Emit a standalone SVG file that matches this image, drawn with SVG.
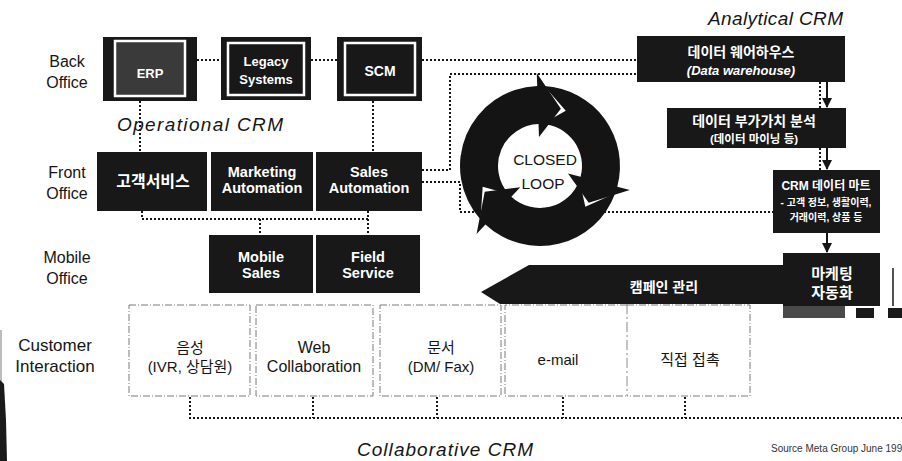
<svg xmlns="http://www.w3.org/2000/svg" width="902" height="461" viewBox="0 0 902 461">
  <defs>
    <style>
      .lbl { font-family: "Liberation Sans", "Noto Sans CJK KR", sans-serif; font-size: 16px; fill: #151515; text-anchor: middle; }
      .ttl { font-family: "Liberation Sans", sans-serif; font-style: italic; font-size: 19px; fill: #151515; }
      .box { fill: #181818; }
      .inner { fill: none; stroke: #ffffff; stroke-width: 2.5; }
      .wt { font-family: "Liberation Sans", "Noto Sans CJK KR", sans-serif; font-weight: bold; fill: #ffffff; text-anchor: middle; }
      .ci { font-family: "Liberation Sans", "Noto Sans CJK KR", sans-serif; font-size: 15px; fill: #151515; text-anchor: middle; }
      .frame { fill: none; stroke: #7a7a7a; stroke-width: 1; stroke-dasharray: 7 2 1 2; }
      .dot { fill: none; stroke: #151515; stroke-width: 2; stroke-dasharray: 2 2; }
      .solid { fill: none; stroke: #151515; stroke-width: 2; }
      .ring { fill: #141414; }
    </style>
    <marker id="head" viewBox="0 0 10 10" refX="9" refY="5" markerWidth="5" markerHeight="5" orient="auto">
      <path d="M0,0 L10,5 L0,10 Z" fill="#151515"/>
    </marker>
  </defs>

  <rect width="902" height="461" fill="#ffffff"/>

  <!-- scanner edge on the left -->
  <rect x="0" y="330" width="2" height="131" fill="#bdbdbd"/>
  <path d="M0,380 L4,384 L6,420 L7,461 L0,461 Z" fill="#1a1a1a"/>

  <!-- row labels -->
  <g id="row-labels">
    <text class="lbl" x="67" y="67">Back</text>
    <text class="lbl" x="67" y="88">Office</text>
    <text class="lbl" x="67" y="178">Front</text>
    <text class="lbl" x="67" y="199">Office</text>
    <text class="lbl" x="67" y="263">Mobile</text>
    <text class="lbl" x="67" y="284">Office</text>
    <text class="lbl" x="55" y="351" style="font-size:17px">Customer</text>
    <text class="lbl" x="55" y="372" style="font-size:17px">Interaction</text>
  </g>

  <!-- group titles -->
  <g id="titles">
    <text class="ttl" x="117" y="131" textLength="166">Operational CRM</text>
    <text class="ttl" x="708" y="25" textLength="135">Analytical CRM</text>
    <text class="ttl" x="357" y="456" textLength="176">Collaborative CRM</text>
    <text x="771" y="452" style="font-family:'Liberation Sans',sans-serif;font-size:10px;fill:#333">Source  Meta Group  June 199</text>
  </g>

  <!-- connectors -->
  <g id="connectors">
    <path class="dot" d="M197,60 H221"/>
    <path class="dot" d="M311,60 H337"/>
    <path class="dot" d="M422,60 H637"/>
    <path class="dot" d="M422,170 H450 V74 H637"/>
    <path class="dot" d="M422,182 H460 V212 H773"/>
    <path class="dot" d="M140,101 V152"/>
    <path class="dot" d="M373,101 V152"/>
    <path class="dot" d="M142,211 V219 H368"/>
    <path class="dot" d="M368,211 V235"/>
    <path class="dot" d="M260,219 V235"/>
    <path class="dot" d="M820,82 V108"/>
    <path class="dot" d="M820,148 V170"/>
    <path class="solid" d="M827,82 V107" marker-end="url(#head)"/>
    <path class="solid" d="M827,147 V169" marker-end="url(#head)"/>
    <path class="solid" d="M827,233 V252" marker-end="url(#head)"/>
    <path class="dot" d="M190,397 V418 H902"/>
    <path class="dot" d="M313,397 V418"/>
    <path class="dot" d="M437,397 V418"/>
    <path class="dot" d="M563,397 V418"/>
    <path class="dot" d="M685,397 V418"/>
  </g>

  <!-- back office -->
  <g id="erp">
    <rect class="box" x="103" y="37" width="94" height="64"/>
    <rect x="115" y="41" width="70" height="55" fill="#3a3a3a"/>
    <rect class="inner" x="115" y="41" width="70" height="55"/>
    <text class="wt" x="150" y="78" style="font-size:13px">ERP</text>
  </g>
  <g id="legacy">
    <rect class="box" x="221" y="37" width="90" height="63"/>
    <rect class="inner" x="228" y="43" width="76" height="52"/>
    <text class="wt" x="266" y="66" style="font-size:13px">Legacy</text>
    <text class="wt" x="266" y="84" style="font-size:13px">Systems</text>
  </g>
  <g id="scm">
    <rect class="box" x="337" y="37" width="85" height="64"/>
    <rect class="inner" x="345" y="43" width="70" height="52"/>
    <text class="wt" x="380" y="76" style="font-size:14px">SCM</text>
  </g>

  <!-- front office -->
  <g id="customer-service">
    <rect class="box" x="97" y="152" width="110" height="59"/>
    <text class="wt" x="153" y="187" style="font-size:16px">고객서비스</text>
  </g>
  <g id="marketing-automation">
    <rect class="box" x="211" y="152" width="102" height="59"/>
    <text class="wt" x="262" y="177" style="font-size:14.5px">Marketing</text>
    <text class="wt" x="262" y="193" style="font-size:14.5px">Automation</text>
  </g>
  <g id="sales-automation">
    <rect class="box" x="316" y="152" width="106" height="59"/>
    <text class="wt" x="369" y="177" style="font-size:14.5px">Sales</text>
    <text class="wt" x="369" y="193" style="font-size:14.5px">Automation</text>
  </g>

  <!-- mobile office -->
  <g id="mobile-sales">
    <rect class="box" x="209" y="235" width="104" height="58"/>
    <text class="wt" x="261" y="262" style="font-size:14.5px">Mobile</text>
    <text class="wt" x="261" y="278" style="font-size:14.5px">Sales</text>
  </g>
  <g id="field-service">
    <rect class="box" x="316" y="235" width="104" height="58"/>
    <text class="wt" x="368" y="262" style="font-size:14.5px">Field</text>
    <text class="wt" x="368" y="278" style="font-size:14.5px">Service</text>
  </g>

  <!-- closed loop: three clockwise arrow segments, each tail notched to take the previous head -->
  <g id="closed-loop">
    <path class="ring" d="M480.55,219.53 A80,80 0 0 1 537.21,86.05 L536.75,73.06 L560.86,108.68 L538.99,137.02 L538.53,124.03 A42,42 0 0 0 508.79,194.1 L482.68,186.86 Z"/>
    <path class="ring" d="M544.18,86.11 A80,80 0 0 1 617.27,186.7 L629.83,190.07 L588.71,202.71 L568.01,173.51 L580.57,176.87 A42,42 0 0 0 542.2,124.06 L565.78,110.72 Z"/>
    <path class="ring" d="M615.18,193.36 A80,80 0 0 1 485.44,224.51 L476.57,234.02 L484.72,191.78 L520.22,187.21 L511.36,196.72 A42,42 0 0 0 579.47,180.36 L585.33,206.82 Z"/>
    <text class="lbl" x="545" y="165" style="font-size:15.5px">CLOSED</text>
    <text class="lbl" x="543" y="189" style="font-size:15.5px">LOOP</text>
  </g>

  <!-- analytical column -->
  <g id="data-warehouse">
    <rect class="box" x="637" y="36" width="208" height="46"/>
    <text class="wt" x="741" y="57" style="font-size:14px">데이터 웨어하우스</text>
    <text class="wt" x="741" y="75" style="font-size:13px;font-style:italic">(Data warehouse)</text>
  </g>
  <g id="data-analysis">
    <rect class="box" x="667" y="108" width="179" height="40"/>
    <text class="wt" x="754" y="126" style="font-size:14px">데이터 부가가치 분석</text>
    <text class="wt" x="754" y="143" style="font-size:11.5px">(데이터 마이닝 등)</text>
  </g>
  <g id="data-mart">
    <rect class="box" x="773" y="170" width="107" height="63"/>
    <text class="wt" x="826" y="190" style="font-size:12px">CRM 데이터 마트</text>
    <text class="wt" x="826" y="206" style="font-size:10px">- 고객 정보, 생활이력,</text>
    <text class="wt" x="826" y="221" style="font-size:10px">거래이력, 상품 등</text>
  </g>
  <g id="marketing-auto">
    <rect x="783" y="306" width="62" height="12" fill="#4a4a4a"/>
    <rect x="856" y="308" width="18" height="10" fill="#1a1a1a"/>
    <rect x="888" y="308" width="14" height="10" fill="#1a1a1a"/>
    <path d="M893,268 V306" stroke="#1a1a1a" stroke-width="1.5"/>
    <rect class="box" x="783" y="253" width="97" height="53"/>
    <text class="wt" x="832" y="279" style="font-size:15px">마케팅</text>
    <text class="wt" x="832" y="298" style="font-size:15px">자동화</text>
  </g>
  <g id="campaign">
    <path class="box" d="M481,292 L529,265 L784,265 L784,304 L500,304 Z"/>
    <text class="wt" x="664" y="292" style="font-size:14px">캠페인 관리</text>
  </g>

  <!-- customer interaction channels -->
  <g id="voice">
    <rect class="frame" x="129" y="305" width="121" height="91"/>
    <text class="ci" x="190" y="353">음성</text>
    <text class="ci" x="190" y="372">(IVR, 상담원)</text>
  </g>
  <g id="web">
    <rect class="frame" x="256" y="305" width="117" height="91"/>
    <text class="ci" x="314" y="353" style="font-size:16px">Web</text>
    <text class="ci" x="314" y="372" style="font-size:16px">Collaboration</text>
  </g>
  <g id="document">
    <rect class="frame" x="380" y="305" width="121" height="91"/>
    <text class="ci" x="441" y="353">문서</text>
    <text class="ci" x="441" y="372">(DM/ Fax)</text>
  </g>
  <g id="email">
    <path class="frame" d="M627,305 H505 V396 H627"/>
    <path d="M627,304 V396" stroke="#8a8a8a" stroke-width="1" stroke-dasharray="10 3 2 3" fill="none"/>
    <text class="ci" x="558" y="365">e-mail</text>
  </g>
  <g id="direct">
    <path class="frame" d="M627,305 H750 V396 H627"/>
    <text class="ci" x="690" y="365">직접 접촉</text>
  </g>
</svg>
